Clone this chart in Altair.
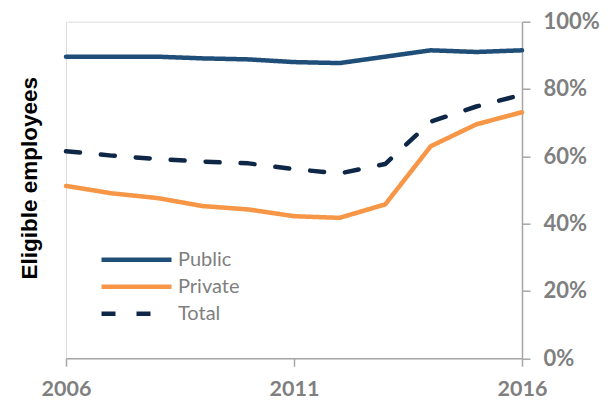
import altair as alt
import pandas as pd

years = list(range(2006, 2017))
public = [89.6, 89.6, 89.6, 89.1, 88.8, 88.0, 87.7, 89.6, 91.5, 91.0, 91.5]
private = [51.2, 49.0, 47.6, 45.2, 44.2, 42.2, 41.7, 45.7, 63.0, 69.5, 73.1]
total = [61.5, 60.2, 59.2, 58.4, 57.9, 56.2, 54.9, 57.7, 70.3, 74.8, 78.3]
series_names = ["Public", "Private", "Total"]
series_colors = ["#1F4E79", "#F79646", "#0F2747"]
x_ticks = [2006, 2011, 2016]
y_ticks = [0, 0.2, 0.4, 0.6, 0.8, 1.0]

rows = []
for name, vals in zip(series_names, [public, private, total]):
    for yr, v in zip(years, vals):
        rows.append({"year": yr, "value": v / 100.0, "series": name})
df = pd.DataFrame(rows)

W = 456
H = 336.5

legend_cfg = dict(
    title=None, orient="none", legendX=33, legendY=228,
    direction="vertical", symbolType="stroke", symbolSize=4900,
    symbolStrokeWidth=4.5, clipHeight=20, rowPadding=7,
    labelFont="Lato", labelFontSize=20, labelColor="#7F7F7F",
    labelOffset=4, padding=0,
)

chart = (
    alt.Chart(df)
    .mark_line(strokeWidth=4.5, strokeCap="round", strokeJoin="round")
    .encode(
        x=alt.X(
            "year:Q",
            scale=alt.Scale(domain=[2006, 2016], nice=False, zero=False),
            axis=alt.Axis(
                values=x_ticks, format="d", title=None, grid=False,
                domainColor="#A6A6A6", tickColor="#A6A6A6", tickSize=8,
                domainWidth=1.5, tickWidth=1.5,
                labelFont="Lato", labelFontWeight="bold", labelFontSize=21.5,
                labelColor="#7F7F7F", labelPadding=12, labelFlush=False,
            ),
        ),
        y=alt.Y(
            "value:Q",
            scale=alt.Scale(domain=[0, 1], nice=False),
            axis=alt.Axis(
                orient="right", values=y_ticks, format=".0%", grid=False,
                domainColor="#A6A6A6", tickColor="#A6A6A6", tickSize=8,
                domainWidth=1.5, tickWidth=1.5,
                labelFont="Lato", labelFontWeight="bold", labelFontSize=22,
                labelColor="#7F7F7F", labelPadding=13, labelAlign="left",
                title="Eligible employees",
                titleFont="Liberation Sans", titleFontWeight="bold",
                titleFontSize=22.5, titleColor="#000000",
                titleAngle=270, titleAlign="center", titleBaseline="alphabetic",
                titleX=-486, titleY=156,
            ),
        ),
        color=alt.Color(
            "series:N",
            scale=alt.Scale(domain=series_names, range=series_colors),
            sort=series_names,
            legend=alt.Legend(**legend_cfg),
        ),
        strokeDash=alt.StrokeDash(
            "series:N",
            scale=alt.Scale(domain=series_names, range=[[1, 0], [1, 0], [14, 21]]),
            sort=series_names,
            legend=alt.Legend(**legend_cfg),
        ),
        order="year:Q",
    )
    .properties(
        width=W, height=H,
        autosize=alt.AutoSizeParams(type="none"),
        padding={"left": 58, "top": 13.7, "right": 79, "bottom": 50},
    )
    .configure_view(stroke=None)
    .configure(background="white")
)

chart.save("out.html", embed_options={"renderer": "svg", "actions": False})
